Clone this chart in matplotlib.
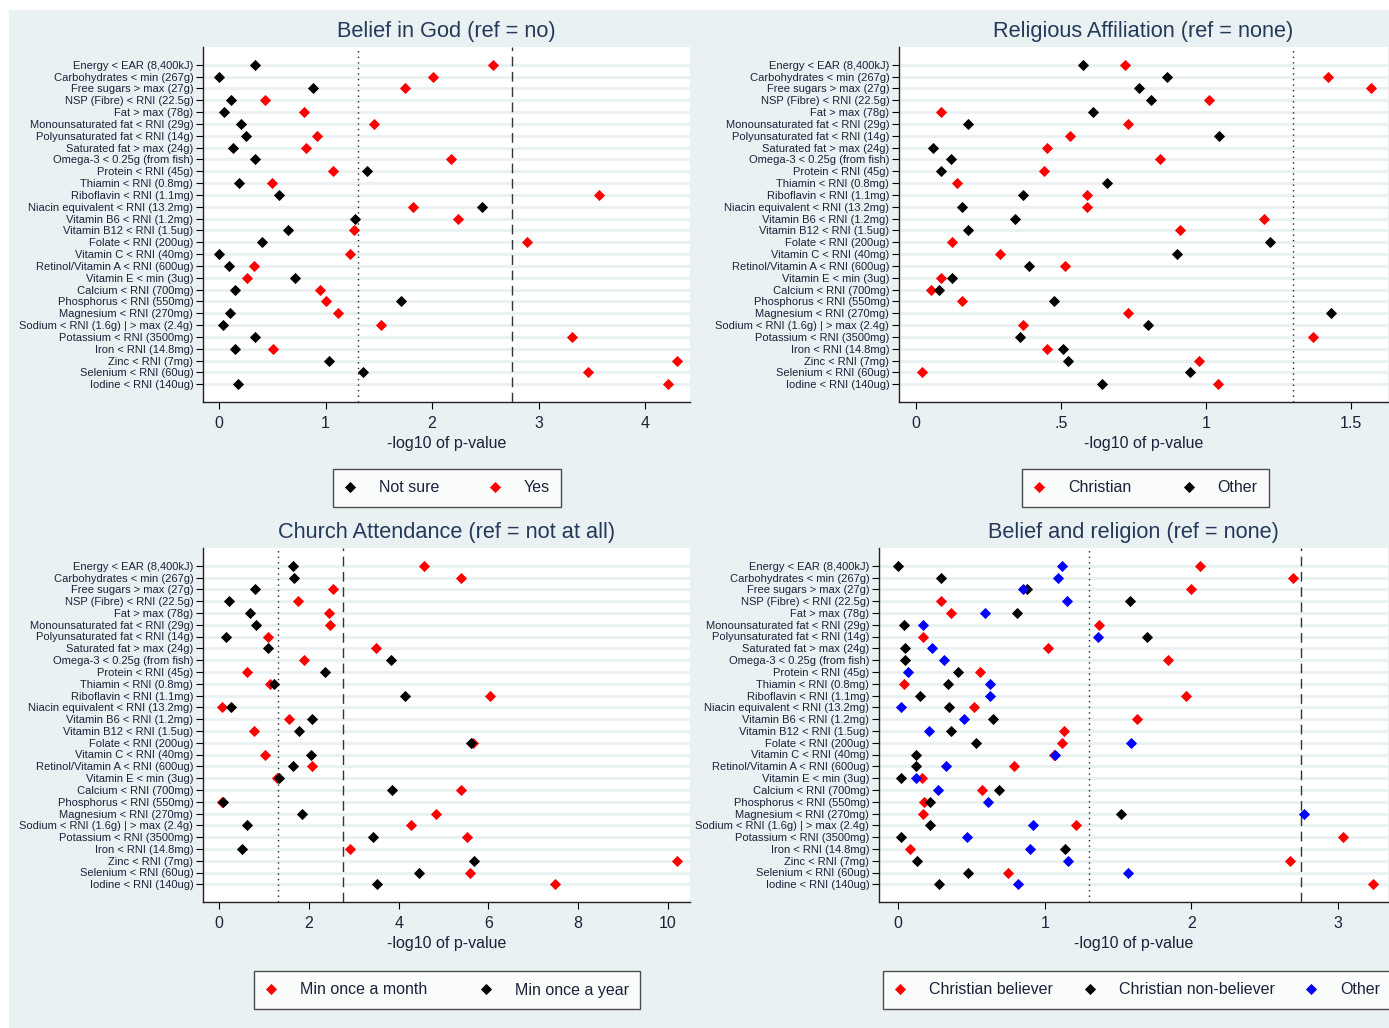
import numpy as np
import matplotlib
matplotlib.use("Agg")
import matplotlib.pyplot as plt
from matplotlib.patches import Rectangle

plt.rcParams["font.family"] = ["Liberation Sans Narrow", "Liberation Sans", "DejaVu Sans"]

W, H = 1389, 1028

nutrients = [
    "Energy < EAR (8,400kJ)",
    "Carbohydrates < min (267g)",
    "Free sugars > max (27g)",
    "NSP (Fibre) < RNI (22.5g)",
    "Fat > max (78g)",
    "Monounsaturated fat < RNI (29g)",
    "Polyunsaturated fat < RNI (14g)",
    "Saturated fat > max (24g)",
    "Omega-3 < 0.25g (from fish)",
    "Protein < RNI (45g)",
    "Thiamin < RNI (0.8mg)",
    "Riboflavin < RNI (1.1mg)",
    "Niacin equivalent < RNI (13.2mg)",
    "Vitamin B6 < RNI (1.2mg)",
    "Vitamin B12 < RNI (1.5ug)",
    "Folate < RNI (200ug)",
    "Vitamin C < RNI (40mg)",
    "Retinol/Vitamin A < RNI (600ug)",
    "Vitamin E < min (3ug)",
    "Calcium < RNI (700mg)",
    "Phosphorus < RNI (550mg)",
    "Magnesium < RNI (270mg)",
    "Sodium < RNI (1.6g) | > max (2.4g)",
    "Potassium < RNI (3500mg)",
    "Iron < RNI (14.8mg)",
    "Zinc < RNI (7mg)",
    "Selenium < RNI (60ug)",
    "Iodine < RNI (140ug)",
]

# -log10 p-values per comparison
god_not_sure = [0.34, 0.00, 0.88, 0.11, 0.05, 0.21, 0.25, 0.13, 0.34, 1.39, 0.19, 0.56, 2.47, 1.28,
                0.65, 0.40, 0.00, 0.09, 0.71, 0.15, 1.71, 0.10, 0.04, 0.34, 0.15, 1.03, 1.35, 0.18]
god_yes = [2.57, 2.01, 1.75, 0.43, 0.80, 1.45, 0.92, 0.82, 2.18, 1.07, 0.50, 3.57, 1.82, 2.24,
           1.27, 2.89, 1.23, 0.33, 0.26, 0.95, 1.00, 1.12, 1.52, 3.31, 0.51, 4.30, 3.46, 4.21]

relig_christian = [0.72, 1.42, 1.57, 1.01, 0.085, 0.73, 0.53, 0.45, 0.84, 0.44, 0.14, 0.59, 0.59, 1.20,
                   0.91, 0.125, 0.29, 0.515, 0.085, 0.053, 0.16, 0.73, 0.37, 1.37, 0.45, 0.976, 0.02, 1.04]
relig_other = [0.576, 0.866, 0.77, 0.81, 0.61, 0.18, 1.045, 0.06, 0.12, 0.085, 0.66, 0.37, 0.16, 0.34,
               0.18, 1.22, 0.90, 0.39, 0.125, 0.08, 0.475, 1.43, 0.80, 0.36, 0.506, 0.525, 0.944, 0.64]

church_month = [4.56, 5.39, 2.54, 1.75, 2.44, 2.47, 1.08, 3.50, 1.90, 0.61, 1.14, 6.04, 0.06, 1.56,
                0.78, 5.66, 1.03, 2.07, 1.29, 5.39, 0.06, 4.83, 4.27, 5.52, 2.92, 10.19, 5.58, 7.48]
church_year = [1.64, 1.67, 0.79, 0.21, 0.69, 0.82, 0.16, 1.08, 3.83, 2.36, 1.23, 4.14, 0.27, 2.07,
               1.77, 5.62, 2.05, 1.65, 1.33, 3.84, 0.09, 1.84, 0.63, 3.42, 0.52, 5.68, 4.46, 3.52]

belief_christian = [2.06, 2.69, 2.00, 0.29, 0.36, 1.37, 0.17, 1.02, 1.84, 0.56, 0.04, 1.96, 0.52, 1.63,
                    1.13, 1.12, 1.06, 0.79, 0.16, 0.57, 0.18, 0.17, 1.21, 3.03, 0.08, 2.67, 0.75, 3.24]
belief_nonbeliever = [0.00, 0.29, 0.88, 1.58, 0.81, 0.04, 1.70, 0.05, 0.05, 0.41, 0.34, 0.15, 0.35, 0.65,
                      0.36, 0.53, 0.12, 0.12, 0.02, 0.69, 0.22, 1.52, 0.22, 0.02, 1.14, 0.13, 0.48, 0.28]
belief_other = [1.12, 1.09, 0.85, 1.15, 0.59, 0.17, 1.36, 0.23, 0.31, 0.07, 0.63, 0.63, 0.02, 0.45,
                0.21, 1.59, 1.07, 0.33, 0.12, 0.27, 0.61, 2.77, 0.92, 0.47, 0.90, 1.16, 1.57, 0.82]

N_TESTS = len(nutrients)
P_NOMINAL = -np.log10(0.05)
P_BONF = -np.log10(0.05 / N_TESTS)

BG = "#eaf1f3"
TXT = "#1c2238"
TITLE = "#24395a"

panels = [
    dict(title="Belief in God (ref = no)", box=(203, 47, 690, 402),
         xlim=(-0.15, 4.42), ticks=[0, 1, 2, 3, 4], ticklabels=["0", "1", "2", "3", "4"],
         series=[("Not sure", god_not_sure, "black"), ("Yes", god_yes, "red")],
         draw_order=[1, 0], legend_c=(447, 488), colsp=3.1),
    dict(title="Religious Affiliation (ref = none)", box=(899, 47, 1388, 402),
         xlim=(-0.059, 1.628), ticks=[0, 0.5, 1, 1.5], ticklabels=["0", ".5", "1", "1.5"],
         series=[("Christian", relig_christian, "red"), ("Other", relig_other, "black")],
         draw_order=[0, 1], legend_c=(1145, 488), colsp=3.2),
    dict(title="Church Attendance (ref = not at all)", box=(203, 548, 690, 902),
         xlim=(-0.36, 10.49), ticks=[0, 2, 4, 6, 8, 10], ticklabels=["0", "2", "4", "6", "8", "10"],
         series=[("Min once a month", church_month, "red"), ("Min once a year", church_year, "black")],
         draw_order=[0, 1], legend_c=(447, 990), colsp=3.3),
    dict(title="Belief and religion (ref = none)", box=(879, 548, 1388, 902),
         xlim=(-0.13, 3.34), ticks=[0, 1, 2, 3], ticklabels=["0", "1", "2", "3"],
         series=[("Christian believer", belief_christian, "red"),
                 ("Christian non-believer", belief_nonbeliever, "black"),
                 ("Other", belief_other, "blue")],
         draw_order=[0, 1, 2], legend_c=(1137, 990), colsp=1.9),
]

fig = plt.figure(figsize=(W / 100, H / 100), dpi=100, facecolor="white")
fig.patches.append(Rectangle((9 / W, 0), 1, 1 - 10 / H, transform=fig.transFigure,
                             facecolor=BG, edgecolor="none", zorder=-10))

rows = np.arange(N_TESTS)

for p in panels:
    x0, y0, x1, y1 = p["box"]
    ax = fig.add_axes([x0 / W, 1 - y1 / H, (x1 - x0) / W, (y1 - y0) / H])
    ax.set_facecolor("white")

    for r in rows:
        ax.axhline(r, color=BG, lw=2.2, zorder=0)
    ax.axvline(P_NOMINAL, color="#222222", lw=1.0, ls=(0, (1, 3)), zorder=1)
    ax.axvline(P_BONF, color="#333333", lw=1.0, ls=(0, (7, 4)), zorder=1)

    handles = [None] * len(p["series"])
    for i in p["draw_order"]:
        name, vals, col = p["series"][i]
        handles[i] = ax.plot(vals, rows, ls="none", marker="D", ms=5.4, mfc=col, mec=col,
                             mew=0.6, label=name, zorder=3)[0]

    ax.set_ylim(N_TESTS - 1 + 1.5, -1.5)
    ax.set_xlim(*p["xlim"])
    ax.set_yticks(rows)
    ax.set_yticklabels(nutrients, fontsize=8.0, color=TXT)
    ax.set_xticks(p["ticks"])
    ax.set_xticklabels(p["ticklabels"], fontsize=11.5, color=TXT)
    ax.tick_params(axis="y", length=5, width=0.8, pad=2)
    ax.tick_params(axis="x", length=5, width=0.8, pad=5)
    for side in ("top", "right"):
        ax.spines[side].set_visible(False)
    for side in ("left", "bottom"):
        ax.spines[side].set_linewidth(1.0)
        ax.spines[side].set_color("#222222")

    ax.set_xlabel("-log10 of p-value", fontsize=11.5, color=TXT, labelpad=4)
    ax.set_title(p["title"], fontsize=15.7, color=TITLE, pad=7)

    cx, cy = p["legend_c"]
    leg = fig.legend(handles=handles, loc="center", bbox_to_anchor=(cx / W, 1 - cy / H),
                     ncol=len(handles), frameon=True, fancybox=False, edgecolor="#222222",
                     fontsize=11.5, markerscale=0.85, handlelength=0.8, handletextpad=1.4,
                     columnspacing=p["colsp"], borderpad=0.7)
    leg.get_frame().set_linewidth(1.0)
    for t in leg.get_texts():
        t.set_color(TXT)

fig.savefig("out.png", dpi=100, facecolor=fig.get_facecolor())
